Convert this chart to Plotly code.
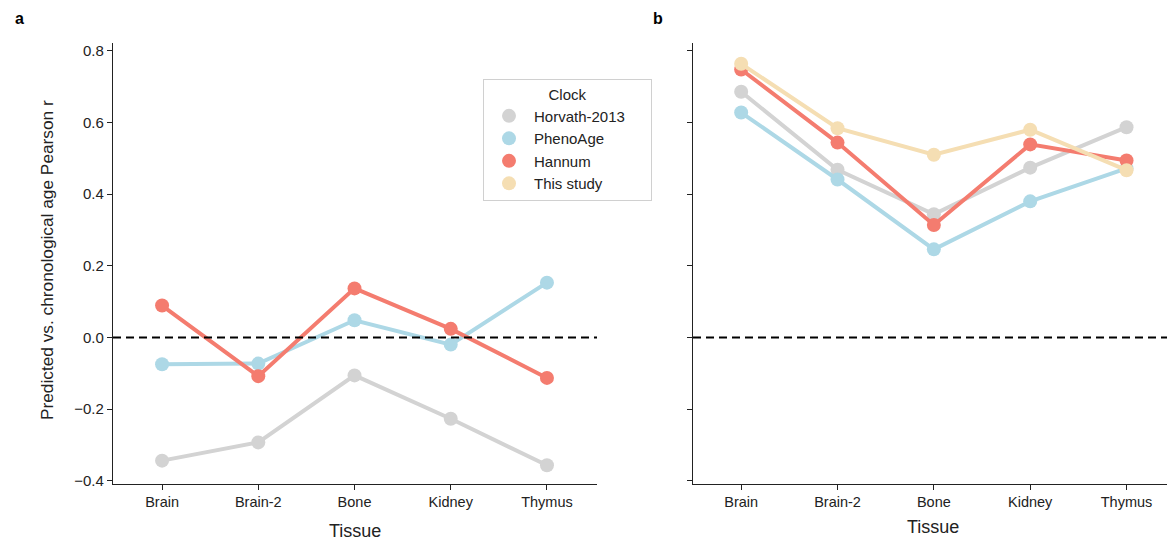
import plotly.graph_objects as go

tissues = ["Brain", "Brain-2", "Bone", "Kidney", "Thymus"]
clocks = ["Horvath-2013", "PhenoAge", "Hannum", "This study"]
colors = {"Horvath-2013": "#d3d3d3", "PhenoAge": "#add8e6", "Hannum": "#f47c6f", "This study": "#f5deb3"}

# Panel a
a_horvath = [-0.344, -0.293, -0.106, -0.227, -0.357]
a_phenoage = [-0.075, -0.073, 0.048, -0.020, 0.153]
a_hannum = [0.089, -0.108, 0.137, 0.024, -0.113]

# Panel b
b_horvath = [0.686, 0.468, 0.344, 0.474, 0.587]
b_phenoage = [0.628, 0.441, 0.246, 0.380, 0.472]
b_hannum = [0.748, 0.544, 0.314, 0.539, 0.494]
b_this = [0.764, 0.584, 0.510, 0.580, 0.467]

y_ticks = [-0.4, -0.2, 0.0, 0.2, 0.4, 0.6, 0.8]
y_ticklabels = ["\u22120.4", "\u22120.2", "0.0", "0.2", "0.4", "0.6", "0.8"]

W, H = 1167, 540
FONT = "Arial, Liberation Sans, sans-serif"
PAD = "\u00a0" * 5

fig = go.Figure()

panel_a = {"Horvath-2013": a_horvath, "PhenoAge": a_phenoage, "Hannum": a_hannum}
panel_b = {"Horvath-2013": b_horvath, "PhenoAge": b_phenoage, "Hannum": b_hannum, "This study": b_this}

for name, vals in panel_a.items():
    fig.add_trace(go.Scatter(x=list(range(len(tissues))), y=vals, mode="lines+markers", name=name,
                             line=dict(color=colors[name], width=4),
                             marker=dict(color=colors[name], size=14),
                             showlegend=False, xaxis="x", yaxis="y"))
for name, vals in panel_b.items():
    fig.add_trace(go.Scatter(x=list(range(len(tissues))), y=vals, mode="lines+markers", name=name,
                             line=dict(color=colors[name], width=4),
                             marker=dict(color=colors[name], size=14),
                             showlegend=False, xaxis="x2", yaxis="y2"))
for name in clocks:
    fig.add_trace(go.Scatter(x=[None], y=[None], mode="markers", name=name + PAD,
                             marker=dict(color=colors[name], size=14),
                             showlegend=True, xaxis="x", yaxis="y"))

yr = [-0.408, 0.822]
ydom = [1 - 488 / H, 1 - 42.5 / H]
common_x = dict(tickmode="array", tickvals=list(range(len(tissues))), ticktext=tissues,
                showline=True, linecolor="#222", linewidth=1.2, ticks="outside", ticklen=5,
                tickcolor="#222", showgrid=False, zeroline=False,
                tickfont=dict(family=FONT, size=14.5, color="#222"))
common_y = dict(range=yr, domain=ydom, tickmode="array", tickvals=y_ticks,
                showline=True, linecolor="#222", linewidth=1.2, ticks="outside", ticklen=5,
                tickcolor="#222", showgrid=False, zeroline=False,
                tickfont=dict(family=FONT, size=15, color="#222"))

fig.update_layout(
    width=W, height=H,
    margin=dict(l=0, r=0, t=0, b=0),
    paper_bgcolor="white", plot_bgcolor="white",
    font=dict(family=FONT, color="#222"),
    xaxis=dict(domain=[113 / W, 597 / W], range=[-0.51, 4.52], anchor="y", **common_x),
    yaxis=dict(anchor="x", ticktext=y_ticklabels, **common_y),
    xaxis2=dict(domain=[693 / W, 1.0], range=[-0.5, 4.42], anchor="y2", **common_x),
    yaxis2=dict(anchor="x2", ticktext=[""] * len(y_ticks), **common_y),
    legend=dict(x=483 / W, y=1 - 79 / H, xanchor="left", yanchor="top",
                bordercolor="#d0d0d0", borderwidth=1, bgcolor="white",
                font=dict(family=FONT, size=15, color="#222"),
                title=dict(text="Clock", side="top center", font=dict(family=FONT, size=15, color="#222")),
                itemsizing="trace", itemwidth=40),
    shapes=[
        dict(type="line", xref="x domain", yref="y", x0=0, x1=1, y0=0, y1=0,
             line=dict(color="black", width=2, dash="8px,5px"), layer="above"),
        dict(type="line", xref="x2 domain", yref="y2", x0=0, x1=1, y0=0, y1=0,
             line=dict(color="black", width=2, dash="8px,5px"), layer="above"),
    ],
    annotations=[
        dict(text="<b>a</b>", x=13 / W, y=1 - 18 / H, xref="paper", yref="paper", showarrow=False,
             font=dict(family=FONT, size=16, color="black"), xanchor="left", yanchor="middle"),
        dict(text="<b>b</b>", x=651 / W, y=1 - 18 / H, xref="paper", yref="paper", showarrow=False,
             font=dict(family=FONT, size=16, color="black"), xanchor="left", yanchor="middle"),
        dict(text="Tissue", x=355 / W, y=1 - 536 / H, xref="paper", yref="paper", showarrow=False,
             font=dict(family=FONT, size=18, color="#222"), xanchor="center", yanchor="middle"),
        dict(text="Tissue", x=933 / W, y=1 - 532 / H, xref="paper", yref="paper", showarrow=False,
             font=dict(family=FONT, size=18, color="#222"), xanchor="center", yanchor="middle"),
        dict(text="Predicted vs. chronological age Pearson r", x=47 / W, y=1 - 262 / H,
             xref="paper", yref="paper", showarrow=False, textangle=-90,
             font=dict(family=FONT, size=17.3, color="#222"), xanchor="center", yanchor="middle"),
    ],
)

post = ("document.documentElement.style.margin='0';document.documentElement.style.padding='0';"
        "document.documentElement.style.overflow='hidden';document.documentElement.style.height='540px';"
        "document.body.style.margin='0';document.body.style.padding='0';"
        "document.body.style.overflow='hidden';document.body.style.height='540px';")
fig.write_html("out.html", post_script=post, config={"displayModeBar": False})
